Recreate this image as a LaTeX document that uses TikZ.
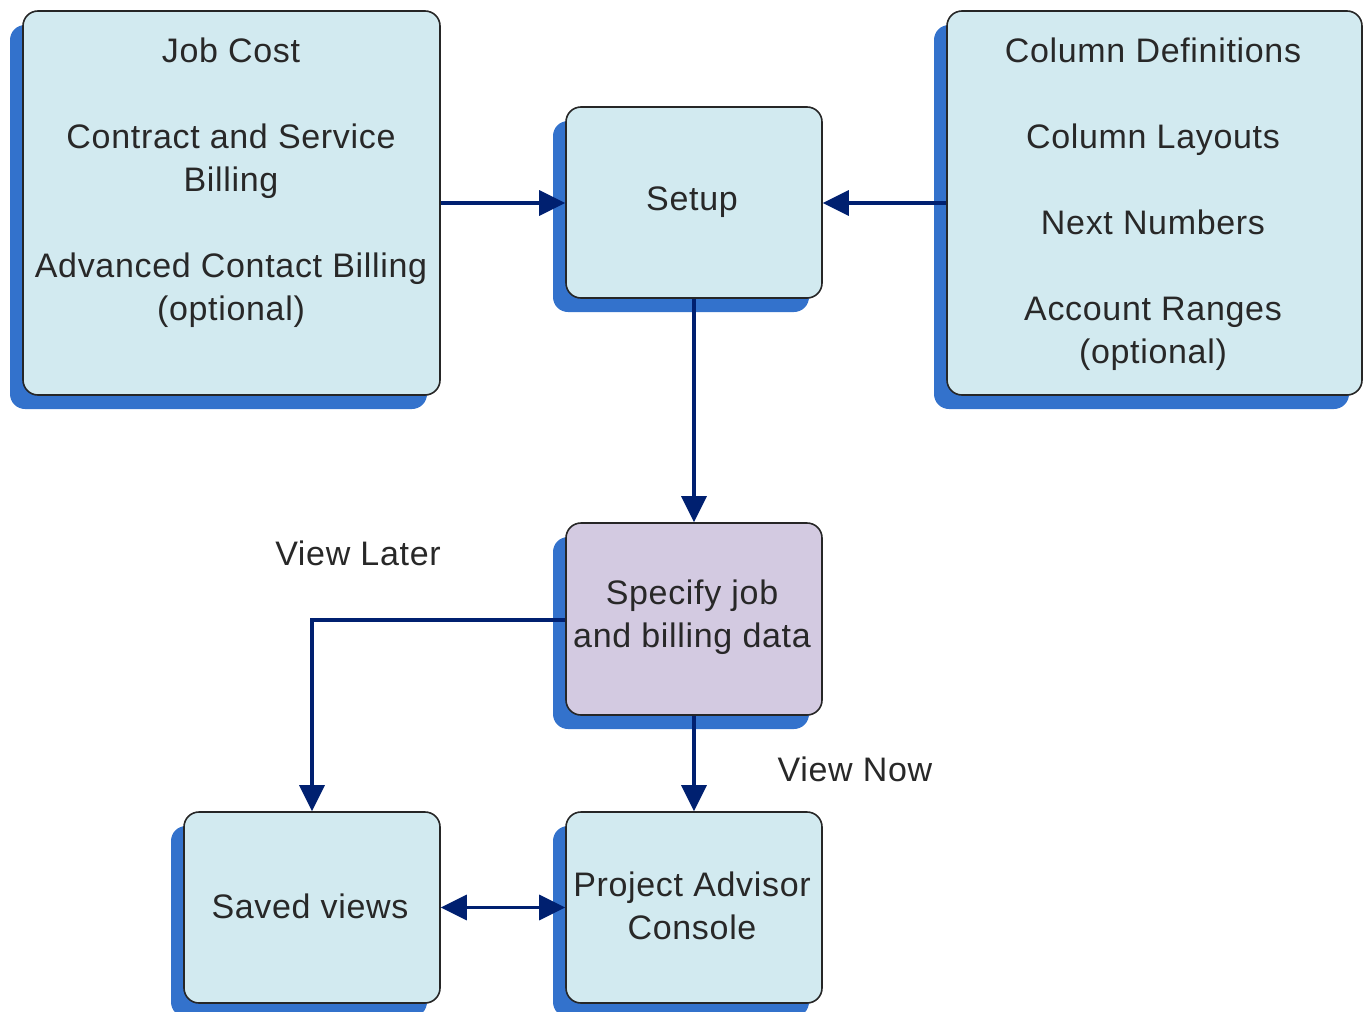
\documentclass[tikz,border=0pt]{standalone}
\usepackage{fontspec}
\setmainfont{Liberation Sans}[LetterSpace=2]
\usetikzlibrary{shadows,arrows.meta}
\definecolor{boxfill}{RGB}{210,234,240}
\definecolor{purplefill}{RGB}{211,202,225}
\definecolor{shadowblue}{RGB}{51,114,204}
\definecolor{navy}{RGB}{0,32,112}
\definecolor{txt}{RGB}{40,40,40}
\tikzset{
  box/.style={draw=black!85, line width=1.6pt, rounded corners=15pt, fill=boxfill,
    drop shadow={shadow xshift=-13pt, shadow yshift=-14pt, fill=shadowblue, opacity=1},
    inner sep=0pt},
  lbl/.style={font=\fontsize{34}{43}\selectfont, text=txt, align=center, inner sep=0pt},
  conn/.style={draw=navy, line width=3.4pt, -{Triangle[length=26pt,width=25pt]}},
}
\begin{document}
\begin{tikzpicture}[x=1pt,y=-1pt]
\useasboundingbox (0,0) rectangle (1366,1012);
% boxes
\node[box, minimum width=417pt, minimum height=384pt] (jc) at (231.5,203) {};
\node[box, minimum width=256pt, minimum height=191pt] (setup) at (694,202.5) {};
\node[box, minimum width=415pt, minimum height=384pt] (cd) at (1154.5,203) {};
\node[box, fill=purplefill, minimum width=256pt, minimum height=192pt] (spec) at (694,619) {};
\node[box, minimum width=256pt, minimum height=191pt] (saved) at (312,907.5) {};
\node[box, minimum width=256pt, minimum height=191pt] (pac) at (694,907.5) {};
% texts
\node[lbl, anchor=north] (jct) at (231,38) {Job Cost\\[43pt]Contract and Service\\Billing\\[43pt]Advanced Contact Billing\\(optional)};
\node[lbl] (setupt) at (692,202) {Setup};
\node[lbl, anchor=north] (cdt) at (1153,38) {Column Definitions\\[43pt]Column Layouts\\[43pt]Next Numbers\\[43pt]Account Ranges\\(optional)};
\node[lbl] (spect) at (692,617) {Specify job\\and billing data};
\node[lbl] (savedt) at (310,906) {Saved views};
\node[lbl] (pact) at (692,906) {Project Advisor\\Console};
\node[lbl] (vl) at (358,553) {View Later};
\node[lbl] (vn) at (855,769) {View Now};
% connectors
\draw[conn] (jc.east |- 0,203) -- (setup.west |- 0,203);
\draw[conn] (cd.west |- 0,203) -- (setup.east |- 0,203);
\draw[conn] (setup.south) -- (spec.north);
\draw[conn] (spec.west |- 0,620) -| (saved.north);
\draw[conn] (spec.south) -- (pac.north);
\draw[conn, {Triangle[length=26pt,width=25pt]}-{Triangle[length=26pt,width=25pt]}] (saved.east) -- (pac.west);
\end{tikzpicture}
\end{document}
